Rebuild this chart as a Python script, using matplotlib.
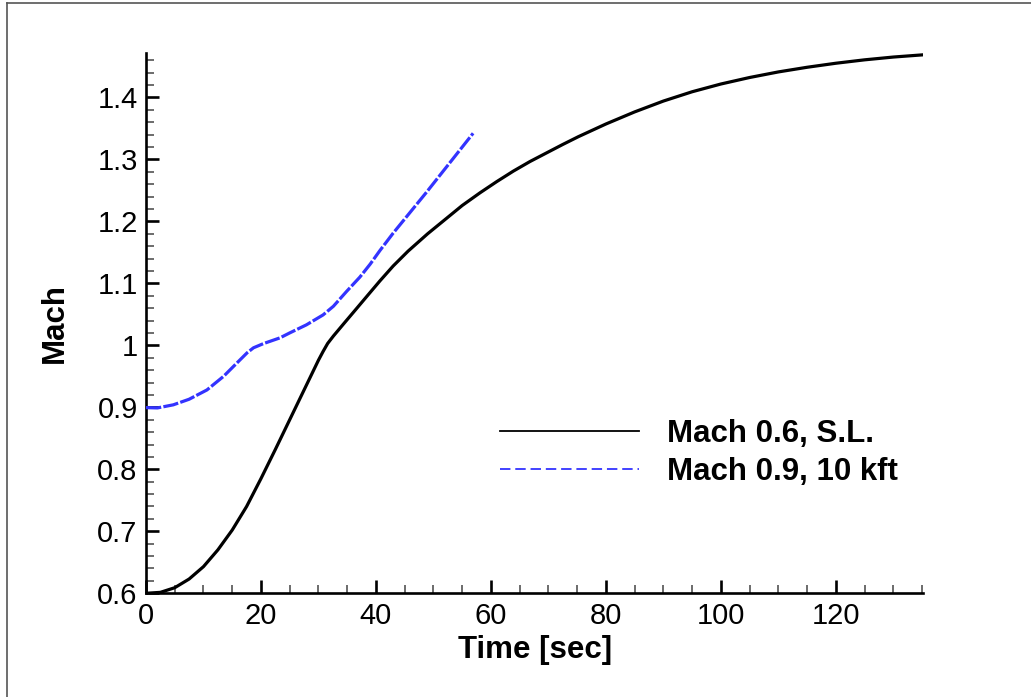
import matplotlib
matplotlib.use('Agg')
import matplotlib.pyplot as plt
from matplotlib.lines import Line2D
from matplotlib.ticker import MultipleLocator

# ---- data ----
t_sl = [0, 2.5, 5.0, 7.5, 10.0, 12.5, 15.0, 17.5, 20.0, 22.5, 25.0, 27.5, 30.0,
        30.8, 31.6, 32.6, 34.5, 36.6, 38.6, 40.7, 43.0, 45.6, 49.0, 52.3, 55.0,
        58.1, 61.0, 63.9, 66.8, 69.7, 72.5, 75.2, 80.0, 85.0, 90.0, 95.0, 100.0,
        105.0, 110.0, 115.0, 120.0, 125.0, 130.0, 135.2]
m_sl = [0.600, 0.6015, 0.609, 0.623, 0.643, 0.670, 0.702, 0.740, 0.785, 0.832, 0.880, 0.928, 0.976,
        0.990, 1.003, 1.015, 1.036, 1.059, 1.081, 1.104, 1.128, 1.152, 1.180, 1.205, 1.2255,
        1.246, 1.264, 1.281, 1.2965, 1.3105, 1.324, 1.3365, 1.357, 1.3765, 1.394, 1.409, 1.4215,
        1.432, 1.441, 1.4485, 1.455, 1.4605, 1.465, 1.4686]

t_10k = [0, 2.0, 4.75, 7.5, 10.6, 13.5, 16.3, 17.6, 18.7, 20.5, 23.3, 25.0, 27.9,
         30.8, 32.6, 34.9, 37.2, 39.0, 40.7, 43.0, 48.8, 56.9]
m_10k = [0.8995, 0.899, 0.904, 0.913, 0.928, 0.950, 0.976, 0.988, 0.996, 1.003, 1.012, 1.020, 1.033,
         1.049, 1.063, 1.087, 1.110, 1.131, 1.153, 1.181, 1.247, 1.342]

series_labels = ['Mach 0.6, S.L.', 'Mach 0.9, 10 kft']
x_label = 'Time [sec]'
y_label = 'Mach'

plt.rcParams['font.family'] = ['Liberation Sans', 'DejaVu Sans']
plt.rcParams['lines.scale_dashes'] = False

fig = plt.figure(figsize=(10.31, 6.97), dpi=100)
ax = fig.add_axes([0.1416, 0.1488, 0.7539, 0.7747])

ax.plot(t_sl, m_sl, color='black', lw=2.3, solid_capstyle='butt', zorder=3)
ax.plot(t_10k, m_10k, color='#3333ff', lw=2.3, dashes=(11, 1.6), dash_capstyle='butt', zorder=4)

ax.set_xlim(0, 135.2)
ax.set_ylim(0.6, 1.471)
ax.xaxis.set_major_locator(MultipleLocator(20))
ax.xaxis.set_minor_locator(MultipleLocator(5))
ax.yaxis.set_major_locator(MultipleLocator(0.1))
ax.yaxis.set_minor_locator(MultipleLocator(0.02))
ax.yaxis.set_major_formatter(plt.FuncFormatter(lambda v, p: ('%g' % round(v, 2))))

for s in ['top', 'right']:
    ax.spines[s].set_visible(False)
for s in ['left', 'bottom']:
    ax.spines[s].set_linewidth(1.9)

ax.tick_params(which='major', direction='in', length=9.5, width=1.9, labelsize=21, pad=6)
ax.tick_params(which='minor', direction='in', length=6, width=1.1, color='#444444')

ax.set_xlabel(x_label, fontsize=22.5, fontweight='bold')
ax.set_ylabel(y_label, fontsize=22.5, fontweight='bold')
ax.xaxis.set_label_coords(0.5, -0.077)
ax.yaxis.set_label_coords(-0.098, 0.5)

handles = [Line2D([], [], color='black', lw=1.3),
           Line2D([], [], color='#3333ff', lw=1.3, dashes=(7.5, 3.5))]
leg = ax.legend(handles, series_labels, loc='upper left',
                bbox_to_anchor=(500 / 1031, 1 - 419 / 697), bbox_transform=fig.transFigure,
                frameon=False, borderpad=0, borderaxespad=0, handlelength=4.45,
                handletextpad=0.9, labelspacing=0.26,
                prop={'size': 22.5, 'weight': 'bold'})

# partial outer frame (left and top edges)
fig.add_artist(Line2D([7 / 1031, 7 / 1031], [0, 1 - 3 / 697], transform=fig.transFigure,
                      color='#555555', lw=1.2))
fig.add_artist(Line2D([7 / 1031, 1], [1 - 3 / 697, 1 - 3 / 697], transform=fig.transFigure,
                      color='#555555', lw=1.2))

fig.savefig('out.png', dpi=100)
